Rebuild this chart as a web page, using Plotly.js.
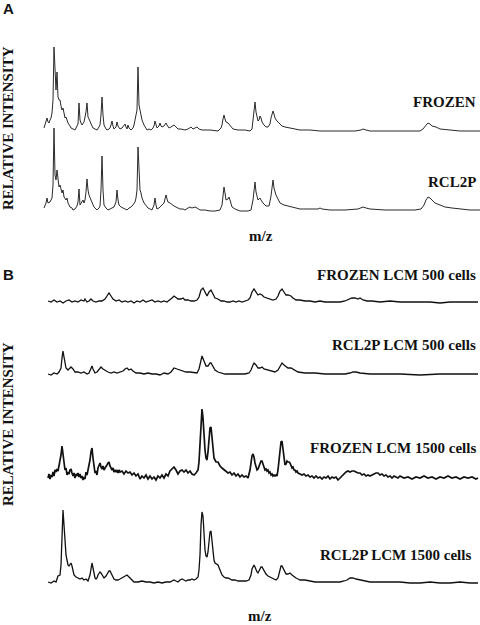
<!DOCTYPE html>
<html>
<head>
<meta charset="utf-8">
<script src="https://cdn.plot.ly/plotly-3.0.1.min.js"></script>
<style>
  html, body { margin: 0; padding: 0; background: #fff; }
  #chart { width: 480px; height: 625px; }
</style>
</head>
<body>
<div id="chart"></div>
<script>
// m/z positions (arbitrary channel scale) and relative intensities

// Panel A - FROZEN
const mzA1 = [44,46,47,48,49,50,51,52,53,54, 55,56,57,58,59,60,61,62,63,64,
  65,66,68,70,71,73,75,77,78,79, 80,81,82,84,85,86,87,88,89,90,
  92,93,95,97,99,100,101,102,103,104, 106,107,109,110,111,112,113,114,116,117,
  118,120,122,124,125,126,127,128,129,131, 133,134,135,136,137,138,139,140,141,142,
  144,146,147,149,151,153,154,155,156,157, 159,160,161,162,164,166,167,169,171,174,
  176,178,181,185,188,191,193,195,197,199, 202,210,218,221,222,223,224,225,226,228,
  229,231,233,238,245,250,252,253,254,255, 256,257,258,259,260,261,262,264,266,268,
  270,271,272,273,274,275,277,279,282,285, 290,295,300,310,320,340,355,361,363,366,
  370,390,410,420,423,425,427,428,430,432, 436,440,448,460,470,480];
const intA1 = [2,8,12,8,7,10,12,17,30,83, 50,40,58,33,30,30,24,20,22,16,
  12,13,7,4,2,1,0,4,6,27, 10,7,5,8,12,18,27,13,11,8,
  4,2,1,0,3,5,15,33,15,5, 1,0,1,2,5,9,4,1,3,8,
  4,1,2,4,6,3,1,5,2,0, 2,5,10,13,20,63,25,20,15,10,
  5,2,0,1,0,2,4,9,4,2, 4,7,4,3,4,7,5,2,3,5,
  3,1,1,0,1,3,1,2,3,1, 0,0,-1,2,5,11,15,11,8,7,
  6,3,1,0,0,-1,1,10,22,28, 18,12,9,10,14,12,8,5,3,3,
  6,12,16,19,16,12,9,7,4,3, 2,1,0,0,-1,-1,-1,0,1,0,
  -1,-1,-1,-1,1,4,6,7,6,4, 3,1,0,-1,-1,-1];

// Panel A - RCL2P
const mzA2 = [44,46,47,48,50,51,52,53,54,55, 56,57,58,59,60,61,62,63,64,66,
  67,68,70,72,73,75,77,78,79,80, 82,83,84,85,86,87,88,89,91,93,
  94,96,97,99,100,101,102,103,104,106, 108,110,112,114,116,117,118,119,121,123,
  125,127,129,131,133,134,135,136,137,138, 139,140,141,142,144,146,148,150,152,154,
  155,156,157,159,160,162,164,165,166,167, 168,170,172,174,176,178,180,183,185,188,
  190,192,195,197,200,205,210,215,220,222, 223,224,225,226,228,229,230,232,235,240,
  248,251,253,254,255,256,257,258,259,260, 261,263,266,269,271,272,273,274,275,276,
  278,280,284,288,292,296,300,310,318,320, 322,330,345,358,361,363,366,370,385,400,
  415,421,424,426,428,430,432,435,440,445, 452,460,470,480];
const intA2 = [2,7,12,7,8,10,12,25,82,35, 30,40,33,23,25,20,17,20,13,10,
  12,7,3,2,0,1,4,8,21,5, 8,10,7,10,18,31,20,15,10,5,
  3,1,0,2,4,20,54,20,5,2, 0,1,2,3,8,20,10,5,3,2,
  1,0,2,3,5,6,8,12,20,63, 30,20,17,12,7,4,2,1,0,5,
  12,5,1,2,3,4,7,11,15,11, 8,7,5,4,3,2,1,1,0,2,
  3,2,3,2,0,0,-1,-1,0,5, 15,23,17,10,11,13,10,3,1,-1,
  -1,0,10,20,28,18,12,10,11,12, 10,7,4,4,14,25,30,22,17,15,
  11,7,5,4,3,2,1,1,1,2, 1,0,0,1,2,3,2,1,0,0,
  0,1,5,10,13,12,10,7,5,3, 2,1,0,0];

// Panel B - FROZEN LCM 500 cells
const mzB1 = [48,51,54,57,60,63,66,69,72,75, 78,81,84,85,87,89,91,93,96,99,
  102,105,107,109,111,113,116,119,122,125, 128,131,134,137,140,143,146,149,152,155,
  158,161,164,167,170,172,174,176,178,181, 183,185,188,191,194,197,199,201,203,205,
  207,209,211,213,215,218,221,224,227,230, 233,236,239,242,245,248,250,252,254,256,
  258,260,262,264,267,270,273,276,278,280, 282,284,286,288,291,293,296,300,305,310,
  315,320,325,330,335,340,345,348,350,352, 355,358,360,363,367,372,380,390,400,410,
  420,430,440,450,460,470,478];
const intB1 = [1,0,2,0,1,-1,1,2,0,1, 0,2,1,3,0,1,3,1,0,1,
  1,3,6,9,6,3,1,2,0,1, 0,1,-1,1,0,2,0,1,2,0,
  1,0,1,0,2,4,6,4,3,3, 4,2,2,1,1,2,5,12,14,10,
  6,10,12,8,4,3,1,1,0,0, 1,0,1,0,1,2,4,10,13,10,
  7,8,7,5,4,3,2,3,6,11, 13,10,7,7,6,4,2,2,1,1,
  0,1,0,0,0,0,1,2,3,4, 4,3,4,2,1,1,0,1,0,0,
  0,0,-1,0,0,0,0];

// Panel B - RCL2P LCM 500 cells
const mzB2 = [48,51,54,57,59,61,62,63,64,65, 66,68,70,71,73,75,78,81,84,87,
  89,91,92,93,95,97,99,101,103,106, 108,111,114,117,120,123,125,127,129,131,
  133,136,140,144,148,152,156,160,164,168, 171,174,177,180,183,186,190,194,197,199,
  201,202,204,206,208,210,211,213,215,218, 221,225,230,235,240,245,249,251,253,254,
  256,258,260,262,264,267,270,275,278,280, 282,284,286,288,291,294,298,305,315,325,
  335,345,350,353,356,360,370,380,400,420, 440,460,478];
const intB2 = [0,-1,1,0,2,6,16,23,17,10, 6,4,6,7,5,2,2,1,2,0,
  1,6,8,5,1,2,5,7,5,3, 2,1,2,1,2,3,5,6,4,5,
  3,1,1,0,1,0,0,-1,1,0, 2,6,5,4,3,2,2,1,1,5,
  14,18,13,8,8,11,11,8,4,2, 1,0,0,0,0,0,1,4,9,11,
  9,6,6,7,5,4,3,2,4,8, 11,9,7,6,6,4,2,1,1,0,
  0,0,1,2,2,1,0,0,0,-1, 0,0,0];

// Panel B - FROZEN LCM 1500 cells
const mzB3 = [48,49,50,51,52,53,54,55,56,57, 58,59,60,61,62,63,64,65,66,67,
  68,69,70,71,72,73,74,75,76,77, 78,79,80,81,82,83,84,85,86,87,
  88,89,90,91,92,93,94,95,96,97, 98,99,100,101,102,103,104,105,106,107,
  108,109,110,111,112,113,114,115,116,117, 118,119,120,122,124,126,128,130,132,134,
  136,138,140,142,144,146,148,150,152,154, 156,158,160,162,164,166,168,170,172,174,
  176,178,180,182,184,186,188,190,192,194, 196,198,199,200,201,202,203,204,205,206,
  207,208,209,210,211,212,213,214,215,216, 218,220,222,224,226,228,230,232,234,236,
  238,240,242,244,246,248,250,251,252,253, 254,255,256,257,258,259,260,261,262,263,
  264,265,266,267,268,269,270,271,272,273, 274,275,276,277,278,279,280,281,282,283,
  284,285,286,287,288,289,290,291,292,293, 294,295,296,297,298,300,302,304,306,308,
  310,312,314,316,318,320,322,324,326,328, 330,332,334,336,338,340,342,344,346,348,
  350,352,354,356,358,360,362,364,366,368, 370,372,374,376,378,380,382,384,386,388,
  390,392,394,396,398,400,404,408,412,416, 420,424,428,432,436,440,444,448,452,456,
  460,464,468,472,476,478];
const intB3 = [-1,3,-2,2,0,5,1,7,5,8, 6,11,15,22,31,21,11,7,9,2,
  5,3,7,8,4,1,4,-1,3,1, 4,0,3,-1,1,-3,0,-2,5,2,
  7,11,17,25,29,19,7,4,6,2, 9,12,14,10,8,11,7,9,10,12,
  14,15,11,9,7,9,5,7,5,7, 4,7,5,6,3,6,4,5,2,4,
  1,3,-2,1,-1,2,-2,1,-2,0, -3,1,-1,2,-1,3,1,6,8,10,
  7,3,6,7,5,7,4,6,3,2, 4,7,15,32,57,68,59,37,27,19,
  17,25,39,49,50,37,25,19,17,15, 15,11,9,7,6,4,5,2,4,1,
  3,0,2,0,1,-1,7,15,21,23, 20,14,9,7,8,11,14,16,16,13,
  10,7,8,6,7,4,5,2,3,1, 2,1,2,1,7,19,29,35,36,29,
  19,12,13,16,15,15,14,11,9,10, 7,7,5,6,4,3,2,3,1,2,
  0,1,-1,1,-1,0,-2,0,-1,1, -2,0,-1,0,-3,-1,1,4,5,6,
  5,6,6,5,4,4,2,3,1,2, 1,2,3,4,4,2,3,1,2,0,
  1,-1,1,0,-1,1,-1,0,-2,0, -1,1,-1,0,-2,0,-1,1,-1,0,
  -2,0,-1,0,-2,-1];

// Panel B - RCL2P LCM 1500 cells
const mzB4 = [48,51,54,56,58,60,61,62,63,64, 65,66,67,68,69,70,71,72,73,74,
  76,78,80,82,84,86,88,90,91,92, 93,94,95,96,97,98,99,100,101,102,
  103,104,106,108,109,110,111,112,114,116, 118,120,122,124,126,127,128,130,132,134,
  138,142,146,150,154,158,162,166,170,172, 174,176,178,180,182,184,186,188,190,192,
  194,196,198,199,200,201,202,203,204,205, 206,207,208,209,210,211,212,213,214,215,
  216,217,218,220,222,224,226,228,230,232, 235,238,242,246,249,251,252,253,254,255,
  256,257,258,259,260,261,262,263,264,266, 268,270,272,274,276,278,279,280,281,282,
  283,284,286,288,290,292,294,296,298,300, 305,310,315,320,325,330,335,340,344,347,
  350,353,356,360,365,370,380,390,400,410, 420,430,440,450,460,470,478];
const intB4 = [0,-1,1,0,6,7,17,47,72,57, 37,27,22,17,16,17,19,16,11,7,
  5,4,3,4,2,3,1,7,15,19, 14,7,4,3,4,7,9,10,9,7,
  5,4,6,9,11,11,9,6,3,2, 2,3,4,5,6,7,6,4,2,0,
  0,1,0,0,-1,0,-1,0,0,1, 2,1,0,2,3,2,1,2,2,3,
  2,3,5,12,27,57,70,66,47,32, 26,25,30,42,50,51,42,30,22,19,
  18,17,17,12,7,5,4,4,3,2, 2,1,1,1,2,7,13,16,17,15,
  12,10,9,11,13,15,15,13,11,8, 6,5,4,3,2,4,8,13,16,16,
  14,11,8,8,9,7,5,4,3,2, 2,1,0,0,0,0,0,0,1,2,
  4,4,3,2,1,0,0,0,0,-1, -1,0,-1,-1,0,-1,-1];

const seriesX = [mzA1, mzA2, mzB1, mzB2, mzB3, mzB4];
const seriesY = [intA1, intA2, intB1, intB2, intB3, intB4];

// layout: pixel baseline of each spectrum, line styles
const W = 480, H = 625;
const baselines = [130, 210, 302, 374, 477, 582];
const lineColors = ["#2a2a2a", "#2a2a2a", "#111", "#111", "#111", "#111"];
const lineWidths = [1, 1, 1.3, 1.3, 1.7, 1.3];

const traces = seriesX.map((xs, i) => ({
  x: xs,
  y: seriesY[i],
  xaxis: "x",
  yaxis: i === 0 ? "y" : "y" + (i + 1),
  type: "scatter",
  mode: "lines",
  line: { color: lineColors[i], width: lineWidths[i] },
  hoverinfo: "skip",
  cliponaxis: false,
}));

const serif = "Liberation Serif, Times New Roman, serif";
const sans = "Liberation Sans, Arial, sans-serif";

function note(text, px, py, opts) {
  return Object.assign({
    text: text,
    xref: "paper", yref: "paper",
    x: px / W, y: 1 - py / H,
    xanchor: "center", yanchor: "middle",
    showarrow: false,
    font: { family: serif, size: 15, color: "#111" },
  }, opts || {});
}

const annotations = [
  note("<b>A</b>", 1, 8, { xanchor: "left", font: { family: sans, size: 15, color: "#111" } }),
  note("<b>RELATIVE INTENSITY</b>", 8, 128, { textangle: -90 }),
  note("<b>FROZEN</b>", 478, 102, { xanchor: "right" }),
  note("<b>RCL2P</b>", 478, 182, { xanchor: "right" }),
  note("<b>m/z</b>", 261, 236),
  note("<b>B</b>", 1, 275, { xanchor: "left", font: { family: sans, size: 15, color: "#111" } }),
  note("<b>RELATIVE INTENSITY</b>", 8, 424, { textangle: -90 }),
  note("<b>FROZEN LCM 500 cells</b>", 478, 275, { xanchor: "right" }),
  note("<b>RCL2P LCM 500 cells</b>", 478, 345, { xanchor: "right" }),
  note("<b>FROZEN LCM 1500 cells</b>", 478, 448, { xanchor: "right" }),
  note("<b>RCL2P LCM 1500 cells</b>", 473, 555, { xanchor: "right" }),
  note("<b>m/z</b>", 260, 616),
];

const layout = {
  width: W,
  height: H,
  margin: { l: 0, r: 0, t: 0, b: 0, pad: 0 },
  paper_bgcolor: "#fff",
  plot_bgcolor: "rgba(0,0,0,0)",
  showlegend: false,
  xaxis: { range: [0, W], domain: [0, 1], visible: false, fixedrange: true },
  annotations: annotations,
};

// one hidden y axis per spectrum, 1 intensity unit = 1 pixel
baselines.forEach((b, i) => {
  const key = i === 0 ? "yaxis" : "yaxis" + (i + 1);
  layout[key] = {
    domain: [(H - b - 5) / H, (H - b + 95) / H],
    range: [-5, 95],
    visible: false,
    fixedrange: true,
    anchor: "x",
  };
});

Plotly.newPlot("chart", traces, layout, { displayModeBar: false, staticPlot: true });
</script>
</body>
</html>
